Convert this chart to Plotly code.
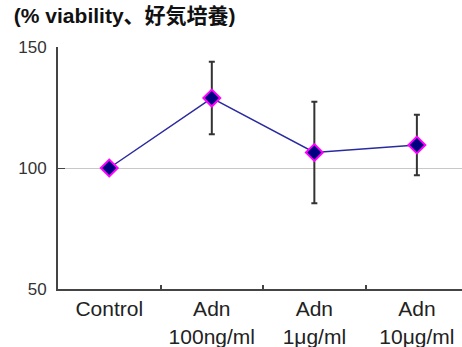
import plotly.graph_objects as go

categories = ["Control", "Adn<br>100ng/ml", "Adn<br>1μg/ml", "Adn<br>10μg/ml"]
viability = [100, 128.9, 106.4, 109.5]
error = [0, 15.0, 21.0, 12.5]
y_ticks = [50, 100, 150]

FONT = "Liberation Sans, Arial, Noto Sans CJK JP, sans-serif"

fig = go.Figure()
fig.add_trace(go.Scatter(
    x=categories, y=viability,
    mode="lines+markers",
    line=dict(color="#2a2aa0", width=1.5),
    marker=dict(symbol="diamond", size=13, color="#000080",
                line=dict(color="#ff00ff", width=2)),
    error_y=dict(type="data", array=error, visible=True,
                 color="#333333", thickness=2, width=3),
    showlegend=False,
    cliponaxis=False,
))

fig.update_layout(
    width=462, height=347,
    margin=dict(l=58, r=0, t=47, b=58, autoexpand=False),
    paper_bgcolor="white", plot_bgcolor="white",
    font=dict(family=FONT, size=20, color="#222222"),
    title=dict(text="<b>(% viability、好気培養)</b>", x=0.03, xanchor="left",
               xref="container", y=0.975, yanchor="top", yref="container",
               font=dict(family=FONT, size=21, color="#111111")),
    xaxis=dict(
        type="category", range=[-0.5, 3.44], automargin=False,
        tickson="boundaries", ticks="inside", ticklen=4, tickwidth=1.5,
        tickcolor="#444444",
        showline=True, linecolor="#444444", linewidth=2,
        showgrid=False, zeroline=False,
        tickfont=dict(size=21, color="#222222"),
    ),
    yaxis=dict(
        range=[50, 150], tickvals=y_ticks, automargin=False,
        ticks="inside", ticklen=7, tickwidth=1, tickcolor="#444444",
        ticklabelstandoff=6,
        showline=True, linecolor="#444444", linewidth=2,
        showgrid=True, gridcolor="#c8c8c8", gridwidth=1,
        zeroline=False,
        tickfont=dict(size=17, color="#333333"),
    ),
)

fig.write_html("out.html", config={"displayModeBar": False},
               post_script="document.body.style.margin='0';")
